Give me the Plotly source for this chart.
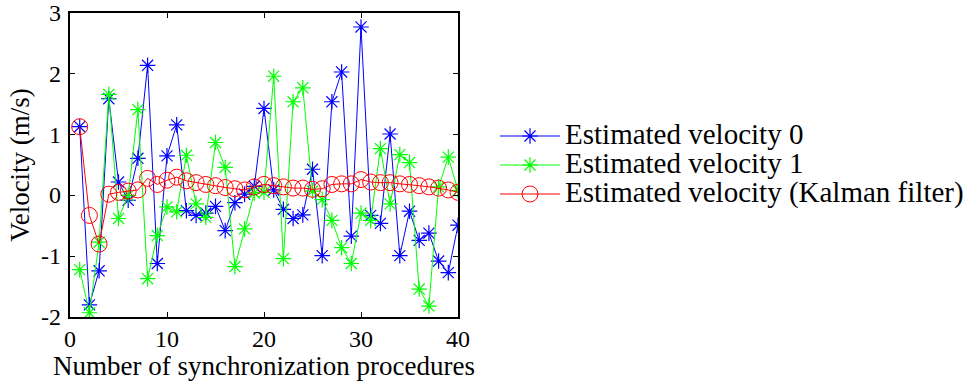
import plotly.graph_objects as go

# Synchronization procedure index
procedures = list(range(1, 41))

# Velocity estimates (m/s)
velocity_0 = [1.13, -1.80, -1.24, 1.59, 0.22, -0.08, 0.61, 2.14, -1.12, 0.65,
              1.16, -0.25, -0.33, -0.29, -0.18, -0.58, -0.12, 0.02, 0.15, 1.43,
              0.09, -0.23, -0.38, -0.32, 0.43, -0.99, 1.54, 2.03, -0.67, 2.77,
              -0.33, -0.46, 1.01, -0.99, -0.26, -0.74, -0.62, -1.08, -1.27, -0.49]
velocity_1 = [-1.22, -1.93, -0.77, 1.66, -0.38, 0.00, 1.41, -1.37, -0.66, -0.19,
              -0.27, 0.66, -0.14, -0.36, 0.87, 0.46, -1.17, -0.55, 0.04, 0.05,
              1.96, -1.04, 1.54, 1.77, 0.07, -0.07, -0.41, -0.86, -1.12, -0.29,
              -0.41, 0.77, -0.14, 0.67, 0.54, -1.54, -1.82, 0.14, 0.63, 0.08]
velocity_kalman = [1.13, -0.33, -0.80, 0.02, 0.05, 0.07, 0.09, 0.28, 0.18, 0.25,
                   0.30, 0.24, 0.21, 0.18, 0.16, 0.13, 0.11, 0.09, 0.14, 0.18,
                   0.16, 0.14, 0.12, 0.12, 0.10, 0.11, 0.18, 0.19, 0.19, 0.26,
                   0.22, 0.21, 0.21, 0.19, 0.18, 0.16, 0.14, 0.12, 0.09, 0.05]

series_names = ["Estimated velocity 0", "Estimated velocity 1",
                "Estimated velocity (Kalman filter)"]

x_ticks = [0, 10, 20, 30, 40]
x_tick_labels = ["0", "10", "20", "30", "40"]
y_ticks = [-2, -1, 0, 1, 2, 3]
y_tick_labels = ["-2", "-1", "0", "1", "2", "3"]

FONT = "Liberation Serif"
TICK_PX = 24
LEGEND_TEXT_PX = 29   # glyph size of legend entries
LEGEND_ROW_PX = 20    # base size that sets the legend row pitch


def legend_label(text):
    return f'<span style="font-size:{LEGEND_TEXT_PX}px">{text}</span>'


fig = go.Figure()

fig.add_trace(go.Scatter(
    x=procedures, y=velocity_0, name=legend_label(series_names[0]),
    mode="lines+markers",
    line=dict(color="rgb(0,0,255)", width=1),
    marker=dict(symbol="asterisk-open", size=13,
                line=dict(color="rgb(0,0,255)", width=1.2)),
))
fig.add_trace(go.Scatter(
    x=procedures, y=velocity_1, name=legend_label(series_names[1]),
    mode="lines+markers",
    line=dict(color="rgb(0,255,0)", width=1),
    marker=dict(symbol="asterisk-open", size=13,
                line=dict(color="rgb(0,255,0)", width=1.2)),
))
fig.add_trace(go.Scatter(
    x=procedures, y=velocity_kalman, name=legend_label(series_names[2]),
    mode="lines+markers",
    line=dict(color="rgb(255,0,0)", width=1),
    marker=dict(symbol="circle-open", size=16,
                line=dict(color="rgb(255,0,0)", width=1)),
))

axis_common = dict(
    showline=True, linecolor="black", linewidth=1.5, mirror="ticks",
    ticks="inside", ticklen=5, tickwidth=1, tickcolor="black",
    showgrid=False, zeroline=False, showticklabels=False, automargin=False,
)

fig.update_xaxes(
    range=[0, 40], tickvals=x_ticks,
    title=dict(text="Number of synchronization procedures",
               font=dict(family=FONT, size=27, color="black"), standoff=38),
    **axis_common,
)
fig.update_yaxes(
    range=[-2, 3], tickvals=y_ticks,
    title=dict(text="Velocity (m/s)",
               font=dict(family=FONT, size=27, color="black"), standoff=31),
    **axis_common,
)

# Tick labels set just outside the frame, placed on the axis scales
tick_font = dict(family=FONT, size=TICK_PX, color="black")
for v, label in zip(x_ticks, x_tick_labels):
    fig.add_annotation(x=v, xref="x", y=0, yref="paper", text=label,
                       showarrow=False, xanchor="center", yanchor="top",
                       yshift=-7, font=tick_font)
for v, label in zip(y_ticks, y_tick_labels):
    fig.add_annotation(x=0, xref="paper", y=v, yref="y", text=label,
                       showarrow=False, xanchor="right", yanchor="middle",
                       xshift=-7, font=tick_font)

fig.update_layout(
    width=972, height=384,
    margin=dict(l=70, r=514, t=13, b=67, autoexpand=False),
    paper_bgcolor="white", plot_bgcolor="white",
    font=dict(family=FONT, color="black"),
    legend=dict(
        x=1.0954, xanchor="left", y=0.50, yanchor="middle",
        font=dict(family=FONT, size=LEGEND_ROW_PX, color="black"),
        bgcolor="rgba(0,0,0,0)", itemwidth=60, tracegroupgap=0,
    ),
)

fig.write_html("out.html")
